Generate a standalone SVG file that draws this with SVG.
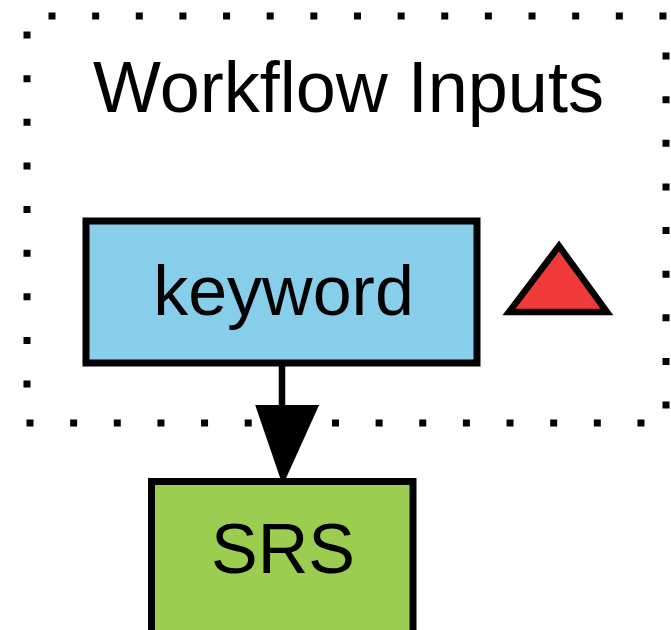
<svg xmlns="http://www.w3.org/2000/svg" width="671" height="630" viewBox="0 0 671 630">
<style>
.lbl{font-family:"Liberation Sans",Arial,sans-serif;font-size:71px;fill:#000;text-anchor:middle}
.dot{stroke:#000;stroke-width:7;stroke-dasharray:7 36.64;fill:none}
.node{stroke:#000;stroke-width:7}
</style>
<rect x="0" y="0" width="671" height="630" fill="#fff"/>
<g id="cluster_inputs">
<line class="dot" x1="48.5" y1="16" x2="670" y2="16"/>
<line class="dot" x1="666" y1="52.5" x2="666" y2="425"/>
<line class="dot" x1="26.5" y1="423" x2="660" y2="423"/>
<line class="dot" x1="27" y1="31.5" x2="27" y2="400"/>
<text class="lbl" x="348.5" y="112" style="font-size:72px">Workflow Inputs</text>
</g>
<g id="connectors">
<line x1="282" y1="364" x2="282" y2="408" stroke="#000" stroke-width="6.5"/>
<polygon points="258,407 316,407 283,480" fill="#000" stroke="#000" stroke-width="4" stroke-linejoin="miter"/>
</g>
<g id="node_keyword">
<rect class="node" x="86" y="221" width="391" height="142" fill="#87CEEB"/>
<text class="lbl" x="283.5" y="315" style="font-size:70px">keyword</text>
</g>
<g id="node_triangle">
<polygon points="559,246 509,312 607,312" fill="#F03A3A" stroke="#000" stroke-width="6.5" stroke-linejoin="miter"/>
</g>
<g id="node_SRS">
<rect class="node" x="151.5" y="481.5" width="261.5" height="160" fill="#9ACD50"/>
<text class="lbl" x="283" y="573" style="font-size:70px">SRS</text>
</g>
</svg>
